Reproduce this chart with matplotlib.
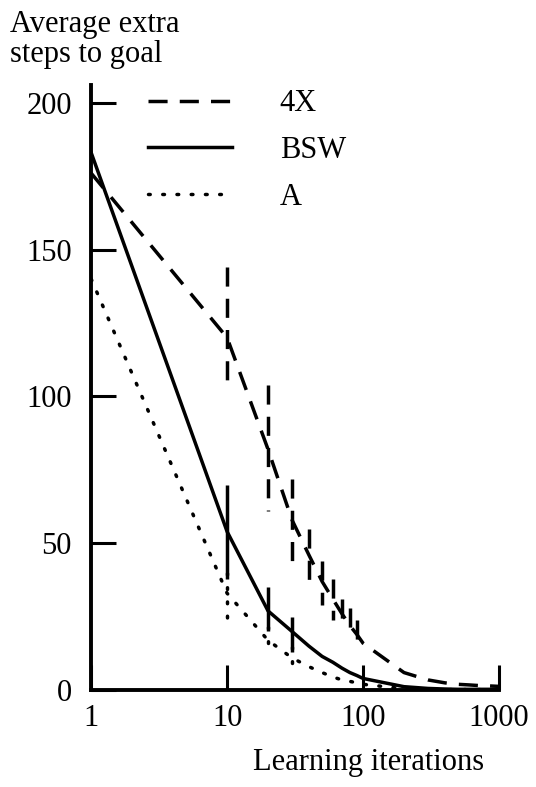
import matplotlib
matplotlib.use("Agg")
import matplotlib.pyplot as plt


ITERATIONS = [1, 10, 20, 30, 40, 50, 60, 70, 80, 90, 100, 200, 300, 400, 500, 600, 700, 800, 900, 1000]
STEPS_4X = [176, 120, 82, 58, 46, 37, 31, 26, 22, 19, 16, 6, 3.5, 2.5, 2.0, 1.8, 1.6, 1.5, 1.4, 1.3]
STEPS_BSW = [183, 54, 27, 20, 15, 11.5, 9.5, 7.5, 6, 5, 4, 1.2, 0.6, 0.4, 0.3, 0.3, 0.3, 0.3, 0.3, 0.3]
STEPS_A = [140, 33, 17, 11, 8, 6, 4.5, 3.5, 3, 2.5, 2, 0.5, 0.3, 0.2, 0.2, 0.2, 0.2, 0.2, 0.2, 0.2]

BAR_X_4X = [10, 20, 30, 40, 50, 60, 70, 80, 90]
BAR_LOW_4X = [102, 61, 43, 37, 29, 24, 22, 19, 17]
BAR_HIGH_4X = [144, 104, 72, 55, 44, 38, 31, 28, 24]
BAR_X_BSW = [10, 20, 30]
BAR_LOW_BSW = [38, 20, 13]
BAR_HIGH_BSW = [70, 35, 25]
BAR_X_A = [10, 20, 30]
BAR_LOW_A = [24, 13, 9]
BAR_HIGH_A = [40, 21.5, 14.7]

X_TICKS = [1, 10, 100, 1000]
Y_TICKS = [0, 50, 100, 150, 200]

DASHED = (0, (5.5, 3.5))
DOTTED = (0, (0.5, 3.6))
LW = 2.5
FONT = "Liberation Serif"
FS = 22


def main() -> None:
    plt.rcParams["font.family"] = FONT
    fig = plt.figure(figsize=(5.36, 7.87), dpi=100)
    ax = fig.add_axes([0.170, 0.123, 0.761, 0.769])

    ax.plot(ITERATIONS, STEPS_4X, color="black", linewidth=LW, linestyle=DASHED, label="4X")
    ax.plot(ITERATIONS, STEPS_BSW, color="black", linewidth=LW, linestyle="-", label="BSW")
    ax.plot(ITERATIONS, STEPS_A, color="black", linewidth=LW, linestyle=DOTTED,
            dash_capstyle="round", label="A")

    # error bars drawn top-down so the dash pattern starts at the upper end
    ax.vlines(BAR_X_4X, BAR_HIGH_4X, BAR_LOW_4X, colors="black", linewidth=LW, linestyles=[DASHED])
    ax.vlines(BAR_X_BSW, BAR_HIGH_BSW, BAR_LOW_BSW, colors="black", linewidth=LW)
    bars_a = ax.vlines(BAR_X_A, BAR_HIGH_A, BAR_LOW_A, colors="black", linewidth=LW, linestyles=[DOTTED])
    bars_a.set_capstyle("round")

    ax.set_xscale("log")
    ax.set_xlim(1, 1000)
    ax.set_ylim(0, 206)
    ax.set_xticks(X_TICKS)
    ax.set_xticklabels([str(t) for t in X_TICKS])
    ax.set_yticks(Y_TICKS)
    ax.set_yticklabels([str(t) for t in Y_TICKS])
    ax.minorticks_off()
    ax.tick_params(axis="both", direction="in", length=18, width=2.2, labelsize=FS)
    ax.tick_params(axis="x", pad=10)
    ax.tick_params(axis="y", pad=14)
    for side in ["top", "right"]:
        ax.spines[side].set_visible(False)
    for side in ["left", "bottom"]:
        ax.spines[side].set_linewidth(2.8)
    ax.set_facecolor("none")

    fig.text(0.019, 0.987, "Average extra\nsteps to goal", fontsize=FS, va="top", ha="left", linespacing=1.05)
    fig.text(0.688, 0.022, "Learning iterations", fontsize=FS, ha="center", va="baseline")

    ax.legend(loc="upper left", bbox_to_anchor=(0.110, 1.013), frameon=False, fontsize=FS,
              handlelength=2.75, handletextpad=1.55, labelspacing=0.58, borderaxespad=0)

    fig.savefig("out.png", dpi=100)
    plt.close(fig)


if __name__ == "__main__":
    main()
